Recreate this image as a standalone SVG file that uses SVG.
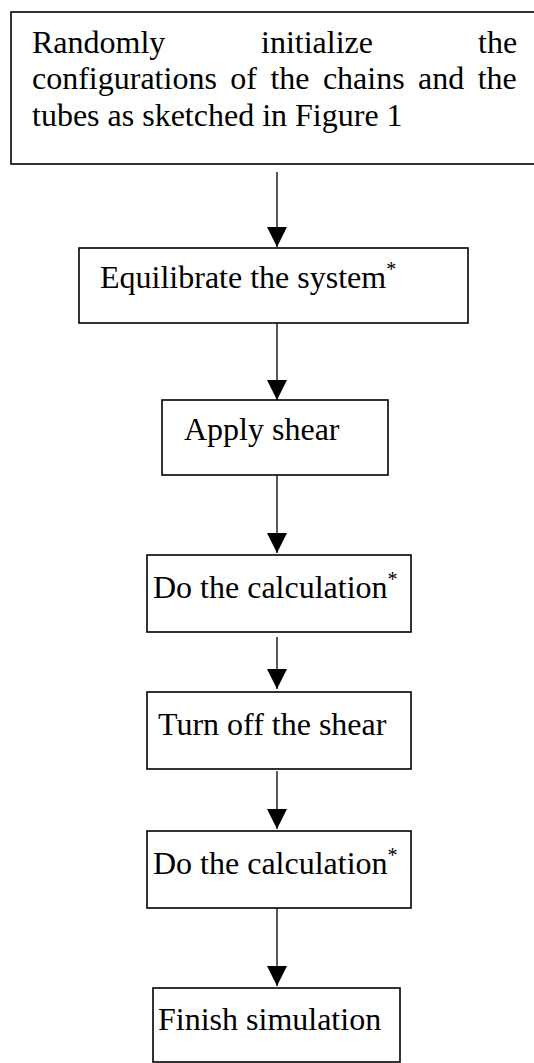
<svg xmlns="http://www.w3.org/2000/svg" width="534" height="1063" viewBox="0 0 534 1063">
<style>
.box{fill:#fff;stroke:#000;stroke-width:1.6}
.t{font-size:32px;fill:#000}
.sup{font-size:20px}
.c{stroke:#000;stroke-width:1.3;fill:none}
</style>
<defs>
<marker id="ah" markerUnits="userSpaceOnUse" markerWidth="20" markerHeight="21" refX="20" refY="10" orient="auto" viewBox="0 0 20 20">
<path d="M0,0 L20,10 L0,20 Z" fill="#000"/>
</marker>
</defs>
<rect width="534" height="1063" fill="#fff"/>
<g id="connectors">
<line class="c" x1="277" y1="172" x2="277" y2="247" marker-end="url(#ah)"/>
<line class="c" x1="277" y1="323" x2="277" y2="400" marker-end="url(#ah)"/>
<line class="c" x1="277" y1="475" x2="277" y2="553" marker-end="url(#ah)"/>
<line class="c" x1="277" y1="637" x2="277" y2="689" marker-end="url(#ah)"/>
<line class="c" x1="277" y1="771" x2="277" y2="829" marker-end="url(#ah)"/>
<line class="c" x1="277" y1="908" x2="277" y2="986" marker-end="url(#ah)"/>
</g>
<g font-family="Liberation Serif, Tinos, Times New Roman, DejaVu Serif, serif">
<g id="n1">
<rect class="box" x="11" y="12" width="540" height="152"/>
<text class="t" y="53"><tspan x="32">Randomly</tspan><tspan x="261">initialize</tspan><tspan x="478">the</tspan></text>
<text class="t" y="89"><tspan x="32">configurations</tspan><tspan x="230.3">of</tspan><tspan x="270.4">the</tspan><tspan x="322.9">chains</tspan><tspan x="418.1">and</tspan><tspan x="477.7">the</tspan></text>
<text class="t" x="32" y="126">tubes as sketched in Figure 1</text>
</g>
<g id="n2">
<rect class="box" x="79" y="248" width="389" height="75"/>
<text class="t" x="100" y="288">Equilibrate the system<tspan class="sup" dy="-12">*</tspan></text>
</g>
<g id="n3">
<rect class="box" x="162" y="400" width="226" height="75"/>
<text class="t" x="184" y="440">Apply shear</text>
</g>
<g id="n4">
<rect class="box" x="147" y="555" width="264" height="77"/>
<text class="t" x="153" y="598">Do the calculation<tspan class="sup" dy="-12">*</tspan></text>
</g>
<g id="n5">
<rect class="box" x="147" y="692" width="264" height="77"/>
<text class="t" x="158" y="735">Turn off the shear</text>
</g>
<g id="n6">
<rect class="box" x="147" y="831" width="264" height="77"/>
<text class="t" x="153" y="874">Do the calculation<tspan class="sup" dy="-12">*</tspan></text>
</g>
<g id="n7">
<rect class="box" x="153" y="988" width="247" height="74"/>
<text class="t" x="158" y="1030">Finish simulation</text>
</g>
</g>
</svg>
